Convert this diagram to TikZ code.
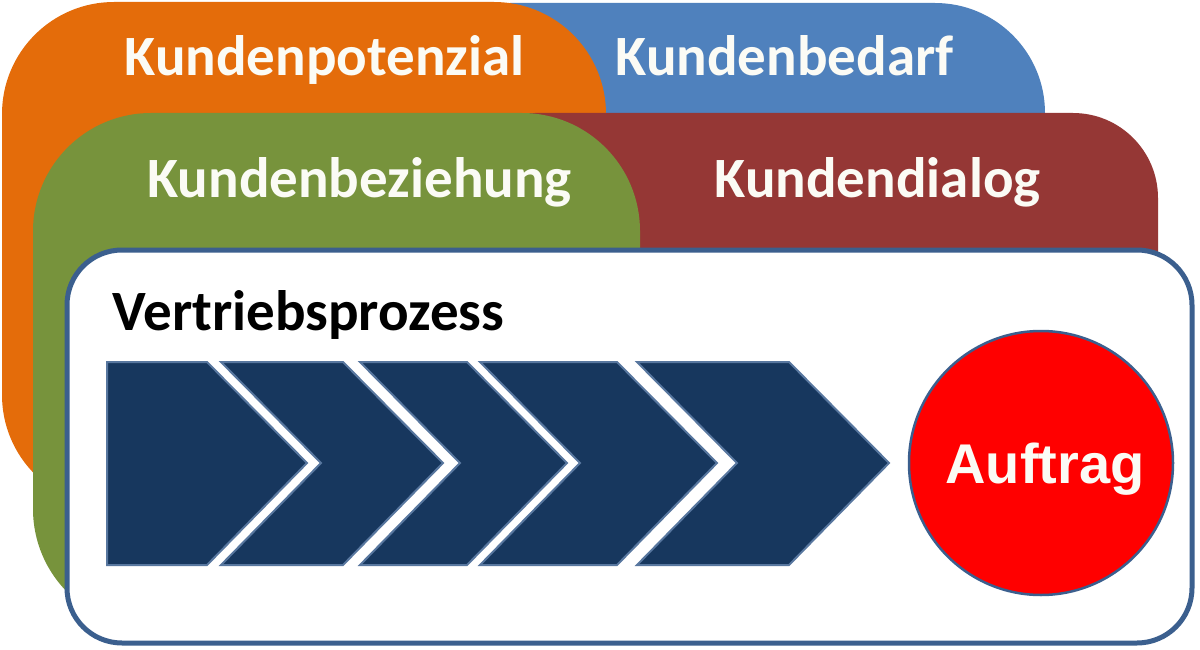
\documentclass[tikz,border=0pt]{standalone}
\usepackage{fontspec}
\setmainfont{Carlito}
\newfontfamily\arialfont{Liberation Sans}
\definecolor{cOrange}{HTML}{E46C0A}
\definecolor{cBlue}{HTML}{4F81BD}
\definecolor{cRed}{HTML}{953735}
\definecolor{cGreen}{HTML}{77933C}
\definecolor{cNavy}{HTML}{17375E}
\definecolor{cEdge}{HTML}{3B5F8E}
\definecolor{cTxt}{HTML}{FBFBF5}
\begin{document}
\begin{tikzpicture}[x=1pt,y=-1pt]
\tikzset{
  lbl/.style={text=cTxt, font=\fontsize{57}{60}\selectfont\bfseries, inner sep=0pt, anchor=base},
  chev/.style={fill=cNavy, draw=cEdge!85!white, line width=2pt, line join=miter},
  procbox/.style={fill=white, draw=cEdge, line width=5pt, rounded corners=55pt},
}
\useasboundingbox (0,0) rectangle (1200,650);
\fill[white] (0,0) rectangle (1200,650);
% layered rounded panels
\fill[cBlue, rounded corners=110pt] (400,3) rectangle (1045,330);
\fill[cOrange, rounded corners=112pt] (2,2) rectangle (606,507);
\fill[cRed, rounded corners=85pt] (450,113) rectangle (1158,360);
\fill[cGreen, rounded corners=118pt] (33,113) rectangle (640,627);
% process box
\draw[procbox] (67,250) rectangle (1192,643);
% labels
\node[lbl] (kp) at (324.5,76) {Kundenpotenzial};
\node[lbl] (kb) at (784.5,76) {Kundenbedarf};
\node[lbl] (kz) at (359.5,197) {Kundenbeziehung};
\node[lbl] (kd) at (877.5,197) {Kundendialog};
\node[lbl, text=black] (vp) at (308.5,330) {Vertriebsprozess};
% chevrons
\draw[chev] (107,362) -- (207,362) -- (307,463) -- (207,565) -- (107,565) -- cycle;
\draw[chev] (221,362) -- (343,362) -- (443,463) -- (343,565) -- (221,565) -- (321,463) -- cycle;
\draw[chev] (360,362) -- (467,362) -- (567,463) -- (467,565) -- (360,565) -- (460,463) -- cycle;
\draw[chev] (480,362) -- (617,362) -- (717,463) -- (617,565) -- (480,565) -- (580,463) -- cycle;
\draw[chev] (637,362) -- (789,362) -- (889,463) -- (789,565) -- (637,565) -- (737,463) -- cycle;
% order circle
\node[circle, fill=red, draw=cEdge, line width=2.5pt, minimum size=264pt, inner sep=0pt] (auf) at (1041,463) {};
\node[text=cTxt, font=\arialfont\fontsize{56}{60}\selectfont\bfseries, inner sep=0pt, anchor=base] (auftxt) at (1045,483) {Auftrag};
\end{tikzpicture}
\end{document}
